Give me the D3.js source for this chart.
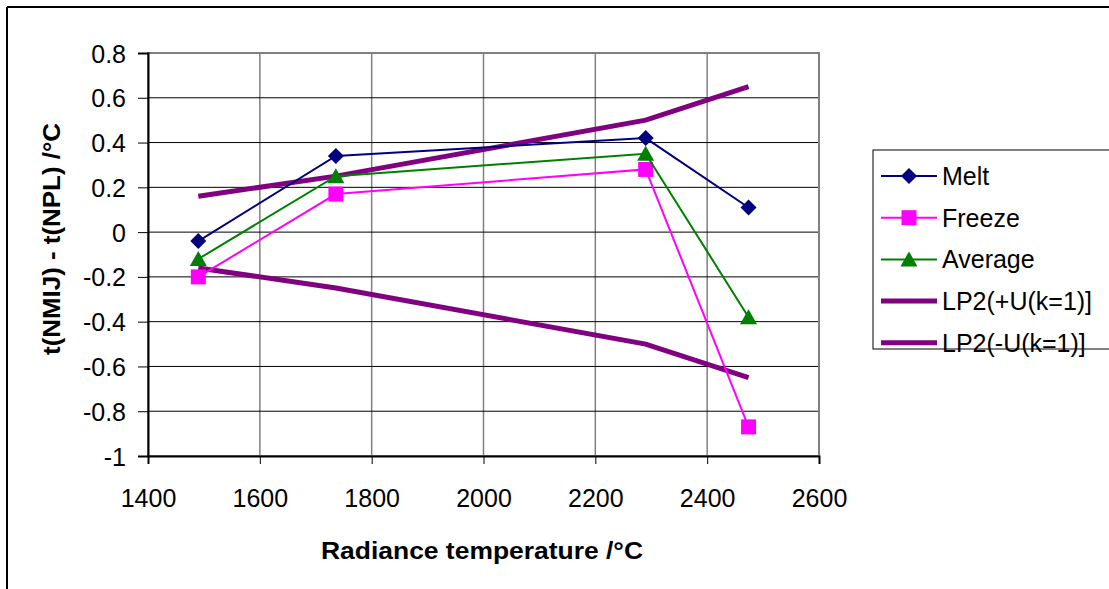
<!DOCTYPE html>
<html>
<head>
<meta charset="utf-8">
<script src="https://cdn.jsdelivr.net/npm/d3@7"></script>
<style>
  body { margin: 0; background: #fff; }
  svg { display: block; font-family: "Liberation Sans", Arial, sans-serif; }
</style>
</head>
<body>
<svg id="chart" width="1109" height="589"></svg>
<script>
// radiance temperatures of the four fixed points
const temps = [1490, 1736, 2290, 2474];
const melt = [-0.04, 0.34, 0.42, 0.11];
const freeze = [-0.20, 0.17, 0.28, -0.87];
const average = [-0.12, 0.25, 0.35, -0.38];
const lp2Plus = [0.16, 0.25, 0.50, 0.65];
const lp2Minus = [-0.16, -0.25, -0.50, -0.65];
const xTicks = [1400, 1600, 1800, 2000, 2200, 2400, 2600];
const yTicks = [-1, -0.8, -0.6, -0.4, -0.2, 0, 0.2, 0.4, 0.6, 0.8];

const series = [
    {name: 'Melt', values: melt, color: '#000080', width: 2, marker: 'diamond'},
    {name: 'Freeze', values: freeze, color: '#ff00ff', width: 2, marker: 'square'},
    {name: 'Average', values: average, color: '#008000', width: 2, marker: 'triangle'},
    {name: 'LP2(+U(k=1)]', values: lp2Plus, color: '#800080', width: 5, marker: null},
    {name: 'LP2(-U(k=1)]', values: lp2Minus, color: '#800080', width: 5, marker: null}
];

const svg = d3.select('#chart');
const plotLeft = 148, plotRight = 819, plotTop = 53, plotBottom = 456;

let x = d3.scaleLinear().domain([1400, 2600]).range([plotLeft, plotRight]);
let y = d3.scaleLinear().domain([-1, 0.8]).range([plotBottom, plotTop]);

// outer frame (only top and left edges show)
svg.append('line').attr('x1', 7).attr('y1', 7).attr('x2', 1109).attr('y2', 7)
    .attr('stroke', '#000').attr('stroke-width', 2);
svg.append('line').attr('x1', 7).attr('y1', 7).attr('x2', 7).attr('y2', 589)
    .attr('stroke', '#000').attr('stroke-width', 2);

// grid
let grid = svg.append('g');
grid.selectAll('.vgrid').data(xTicks).enter().append('line')
    .attr('x1', (d) => x(d)).attr('x2', (d) => x(d))
    .attr('y1', plotTop).attr('y2', plotBottom)
    .attr('stroke', '#808080').attr('stroke-width', 1.5);
grid.selectAll('.hgrid').data(yTicks).enter().append('line')
    .attr('x1', plotLeft).attr('x2', plotRight)
    .attr('y1', (d) => y(d)).attr('y2', (d) => y(d))
    .attr('stroke', '#000').attr('stroke-width', 1);
grid.append('rect').attr('x', plotLeft).attr('y', plotTop)
    .attr('width', plotRight - plotLeft).attr('height', plotBottom - plotTop)
    .attr('fill', 'none').attr('stroke', '#808080').attr('stroke-width', 2);

// axes
let xAxis = d3.axisBottom(x).tickValues(xTicks).tickSizeOuter(0).tickSize(8).tickPadding(25)
    .tickFormat((d) => String(d));
let yAxis = d3.axisLeft(y).tickValues(yTicks).tickSizeOuter(0).tickSize(10).tickPadding(12)
    .tickFormat((d) => String(+d.toFixed(1)));

let gx = svg.append('g').attr('transform', 'translate(0,' + plotBottom + ')').call(xAxis);
let gy = svg.append('g').attr('transform', 'translate(' + plotLeft + ',0)').call(yAxis);
[gx, gy].forEach((g) => {
    g.select('.domain').attr('stroke', '#000').attr('stroke-width', 2);
    g.selectAll('.tick line').attr('stroke', '#000').attr('stroke-width', 1);
    g.selectAll('.tick text').attr('fill', '#000').style('font-size', '25px')
        .style('font-family', '"Liberation Sans", Arial, sans-serif');
});
gy.selectAll('.tick text').attr('dy', '0.36em');

// axis titles
svg.append('text').attr('x', 482).attr('y', 559).attr('text-anchor', 'middle')
    .style('font-size', '24px').style('font-weight', 'bold')
    .attr('textLength', 322).attr('lengthAdjust', 'spacingAndGlyphs')
    .text('Radiance temperature /°C');
svg.append('text').attr('transform', 'translate(60,239) rotate(-90)').attr('text-anchor', 'middle')
    .style('font-size', '23px').style('font-weight', 'bold')
    .attr('textLength', 232).attr('lengthAdjust', 'spacingAndGlyphs')
    .text('t(NMIJ) - t(NPL) /°C');

// markers
const drawMarker = (sel, type, color) => {
    if (type === 'diamond') {
        sel.append('path').attr('d', 'M0,-8L8,0L0,8L-8,0Z').attr('fill', color);
    } else if (type === 'square') {
        sel.append('rect').attr('x', -7.5).attr('y', -7.5).attr('width', 15).attr('height', 15).attr('fill', color);
    } else if (type === 'triangle') {
        sel.append('path').attr('d', 'M0,-8L8.5,7L-8.5,7Z').attr('fill', color);
    }
};

let line = d3.line().x((d) => x(d.t)).y((d) => y(d.v));
let plot = svg.append('g');
// draw the thick bands first, then the measured series on top
const order = [3, 4, 0, 1, 2];
order.forEach((i) => {
    let s = series[i];
    let pts = temps.map((t, j) => ({t: t, v: s.values[j]}));
    plot.append('path').datum(pts).attr('d', line)
        .attr('fill', 'none').attr('stroke', s.color).attr('stroke-width', s.width)
        .attr('stroke-linejoin', 'miter');
    if (s.marker) {
        pts.forEach((p) => {
            let g = plot.append('g').attr('transform', 'translate(' + x(p.t) + ',' + y(p.v) + ')');
            drawMarker(g, s.marker, s.color);
        });
    }
});

// legend
let legend = svg.append('g');
legend.append('rect').attr('x', 873).attr('y', 150).attr('width', 260).attr('height', 199)
    .attr('fill', '#fff').attr('stroke', '#000').attr('stroke-width', 1);
let legendSpacing = 41.7;
series.forEach((s, i) => {
    let cy = 176 + i * legendSpacing;
    let item = legend.append('g');
    item.append('line').attr('x1', 881).attr('x2', 937).attr('y1', cy).attr('y2', cy)
        .attr('stroke', s.color).attr('stroke-width', s.width);
    if (s.marker) {
        drawMarker(item.append('g').attr('transform', 'translate(909,' + cy + ')'), s.marker, s.color);
    }
    item.append('text').attr('x', 942).attr('y', cy + 9).style('font-size', '25px').text(s.name);
});
</script>
</body>
</html>
